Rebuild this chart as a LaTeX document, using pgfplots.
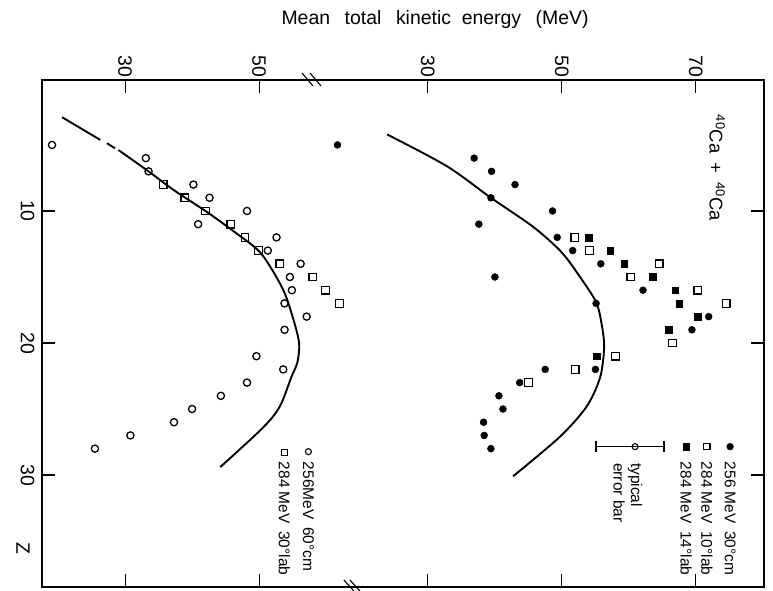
\documentclass[border=0pt]{standalone}
\usepackage{fontspec}
\setmainfont{Liberation Sans}
\usepackage{pgfplots}
\usepackage{pgfplotstable}
\pgfplotsset{compat=1.18}

% ---- left panel (256 MeV 60 deg cm, 284 MeV 30 deg lab) ----
\pgfplotstableread{
Z E
5 19.1
6 33.1
7 33.5
8 40.2
9 42.6
10 48.2
11 40.9
12 52.6
13 51.3
14 56.2
15 54.6
16 54.9
17 53.8
18 57.1
19 53.8
21 49.6
22 53.6
23 48.2
24 44.3
25 40.0
26 37.3
27 30.8
28 25.5
}\Lcirc
\pgfplotstableread{
Z E
8 35.7
9 38.9
10 42.0
11 45.8
12 47.9
13 49.9
14 53.1
15 58.0
16 59.9
17 62.0
}\Lsq
\pgfplotstableread{
Z E
5.38 29.0
7.0 33.5
8.5 37.5
10 42.0
11.5 46.1
13 49.9
14.5 52.0
16.2 53.8
18 55.0
19.5 55.8
20.3 56.0
21.5 55.7
22.6 54.8
24.8 53.1
26.4 50.6
29.4 44.2
}\Lcurve
% ---- right panel (256 MeV 30 deg cm, 284 MeV 10 deg lab, 284 MeV 14 deg lab) ----
\pgfplotstableread{
Z E
5 16.5
6 36.9
7 39.5
8 43.0
9 39.4
10 48.6
11 37.6
12 49.3
13 51.6
14 55.8
15 40.0
16 62.1
17 55.1
18 71.9
19 69.4
22 55.0
22 47.5
23 43.7
24 40.6
25 41.2
26 38.3
27 38.4
28 39.4
}\Rcirc
\pgfplotstableread{
Z E
12 51.9
13 54.1
14 64.5
15 60.3
16 70.3
17 74.5
20 66.5
21 58.0
22 52.0
23 45.0
}\Rsq
\pgfplotstableread{
Z E
12 54.0
13 57.2
14 59.3
15 63.6
16 66.9
17 67.5
18 70.3
19 65.9
21 55.2
}\Rfsq
\pgfplotstableread{
Z E
4.2 23.9
6.6 32.8
9.0 39.4
11.2 45.7
13.1 49.9
15.0 52.7
16.9 55.1
18.5 55.9
20.3 56.3
22.6 55.7
24.8 53.7
27.1 49.7
30.1 42.7
}\Rcurve

\newcommand\tickfont{\fontsize{19.5}{22}\selectfont}
\newcommand\legfont{\fontsize{15.5}{18}\selectfont}

\begin{document}
\begin{tikzpicture}
\begin{axis}[
  at={(0,0)}, anchor=south west,
  scale only axis, width=722bp, height=507bp,
  xmin=17.6, xmax=125.36, ymin=0.08, ymax=38.48,
  y dir=reverse,
  clip=false,
  axis line style={line width=1.3pt},
  xtick={30,50,75.2,95.2,115.2},
  xticklabels={30,50,30,50,70},
  ytick={10,20,30},
  xticklabel pos=upper,
  yticklabel pos=left,
  tick align=inside,
  major tick length=13bp,
  tick style={line width=1.1pt, black},
  /pgf/number format/assume math mode=true,
  xticklabel style={rotate=-90, anchor=east, font=\tickfont},
  yticklabel style={rotate=-90, anchor=north, font=\tickfont},
  xticklabel shift=-1bp,
  yticklabel shift=4bp,
]
% curves
\addplot[black, line width=1.9pt, smooth] table[x=E, y=Z] {\Lcurve};
\addplot[black, line width=1.9pt] coordinates {(20.6,2.9) (26.3,4.62)};
\addplot[black, line width=1.9pt] coordinates {(27.3,4.87) (28.5,5.25)};
\addplot[black, line width=1.9pt, smooth] table[x expr=\thisrow{E}+45.2, y=Z] {\Rcurve};
% left data
\addplot[only marks, mark=o, mark size=3.6bp, mark options={line width=1.3pt, fill=white}] table[x=E, y=Z] {\Lcirc};
\addplot[only marks, mark=square, mark size=3.8bp, mark options={line width=1.3pt, fill=white}] table[x=E, y=Z] {\Lsq};
% right data
\addplot[only marks, mark=*, mark size=3.5bp, mark options={fill=black}] table[x expr=\thisrow{E}+45.2, y=Z] {\Rcirc};
\addplot[only marks, mark=square, mark size=3.8bp, mark options={line width=1.3pt, fill=white}] table[x expr=\thisrow{E}+45.2, y=Z] {\Rsq};
\addplot[only marks, mark=square*, mark size=3.4bp, mark options={fill=black}] table[x expr=\thisrow{E}+45.2, y=Z] {\Rfsq};

% legend markers (right)
\addplot[only marks, mark=*, mark size=3.4bp, mark options={fill=black}] coordinates {(120.30,27.85)};
\addplot[only marks, mark=square, mark size=3.2bp, mark options={line width=1.1pt, fill=white}] coordinates {(116.82,27.85)};
\addplot[only marks, mark=square*, mark size=3.2bp, mark options={fill=black}] coordinates {(113.73,27.85)};
% typical error bar
\addplot[black, line width=1.4pt] coordinates {(100.30,27.85) (110.45,27.85)};
\addplot[black, line width=1.4pt] coordinates {(100.30,27.45) (100.30,28.25)};
\addplot[black, line width=1.4pt] coordinates {(110.45,27.45) (110.45,28.25)};
\addplot[only marks, mark=o, mark size=3bp, mark options={line width=1.1pt, fill=white}] coordinates {(106.12,27.85)};
% legend markers (left)
\addplot[only marks, mark=o, mark size=3bp, mark options={line width=1.1pt, fill=white}] coordinates {(57.36,28.23)};
\addplot[only marks, mark=square, mark size=3bp, mark options={line width=1.1pt, fill=white}] coordinates {(53.78,28.30)};

% legend texts
\node[rotate=-90, anchor=west, font=\legfont, inner sep=0pt] at (axis cs:120.30,28.99) {256 MeV\hspace{0.5em}30°cm};
\node[rotate=-90, anchor=west, font=\legfont, inner sep=0pt] at (axis cs:116.82,28.99) {284 MeV\hspace{0.5em}10°lab};
\node[rotate=-90, anchor=west, font=\legfont, inner sep=0pt] at (axis cs:113.73,28.99) {284 MeV\hspace{0.5em}14°lab};
\node[rotate=-90, anchor=west, font=\legfont, inner sep=0pt] at (axis cs:106.12,29.09) {typical};
\node[rotate=-90, anchor=west, font=\legfont, inner sep=0pt] at (axis cs:103.73,29.09) {error bar};
\node[rotate=-90, anchor=west, font=\legfont, inner sep=0pt] at (axis cs:57.36,28.99) {256MeV\hspace{0.5em}60°cm};
\node[rotate=-90, anchor=west, font=\legfont, inner sep=0pt] at (axis cs:53.78,28.99) {284 MeV\hspace{0.5em}30°lab};

% reaction label
\node[rotate=-90, anchor=center, font=\fontsize{18.5}{22}\selectfont, inner sep=0pt] at (axis cs:118.36,6.74) {\textsuperscript{40}Ca\hspace{0.5em}+\hspace{0.5em}\textsuperscript{40}Ca};

% axis titles
\node[font=\fontsize{19.5}{22}\selectfont, inner sep=0pt] at (axis cs:76.27,-4.47) {Mean\hspace{0.75em}total\hspace{0.75em}kinetic\hspace{0.55em}energy\hspace{0.75em}(MeV)};
\node[rotate=-90, font=\tickfont, inner sep=0pt] at (axis cs:14.78,35.53) {Z};

% axis break marks
\draw[line width=1.1pt] ([shift={(-10bp,7bp)}]axis cs:57.9,0.08) -- ++(11bp,-13bp);
\draw[line width=1.1pt] ([shift={(-2bp,7bp)}]axis cs:57.9,0.08) -- ++(11bp,-13bp);
\draw[line width=1.1pt] ([shift={(-9bp,7bp)}]axis cs:64.0,38.48) -- ++(10bp,-11bp);
\draw[line width=1.1pt] ([shift={(-3bp,7bp)}]axis cs:64.0,38.48) -- ++(10bp,-11bp);

\coordinate (TL) at (axis cs:17.6,0.08);
\coordinate (BR) at (axis cs:125.36,38.48);
\end{axis}
\pgfresetboundingbox
\path[use as bounding box] ([shift={(-42bp,80bp)}]TL) rectangle ([shift={(9bp,-4bp)}]BR);
\end{tikzpicture}
\end{document}
